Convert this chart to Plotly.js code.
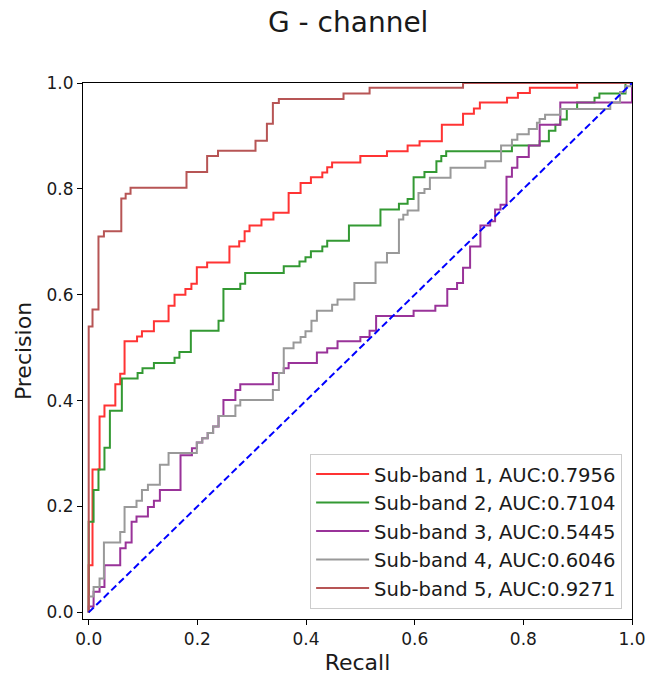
<!DOCTYPE html>
<html>
<head>
<meta charset="utf-8">
<script src="https://cdn.plot.ly/plotly-3.0.1.min.js"></script>
<style>html,body{margin:0;padding:0;background:#fff;}#chart{width:646px;height:676px;}</style>
</head>
<body>
<div id="chart"></div>
<script>
// Step-curve corner points (recall / precision levels after each step)
const band1X = [0,0,0.007,0.020,0.029,0.049,0.058,0.066,0.089,0.098,0.120,0.147,0.158,0.178,0.189,0.199,0.218,0.259,0.277,0.287,0.296,0.318,0.340,0.368,0.390,0.409,0.430,0.439,0.448,0.500,0.549,0.587,0.609,0.650,0.689,0.709,0.720,0.770,0.790,0.812,0.899,1.0];
const band1Y = [0,0.089,0.270,0.370,0.391,0.431,0.451,0.512,0.521,0.531,0.550,0.579,0.600,0.611,0.621,0.652,0.661,0.691,0.701,0.720,0.731,0.742,0.755,0.792,0.811,0.822,0.831,0.841,0.850,0.862,0.871,0.882,0.890,0.921,0.942,0.952,0.963,0.972,0.981,0.991,1.0,1.0];

const band2X = [0,0,0.009,0.018,0.029,0.039,0.061,0.090,0.099,0.120,0.158,0.167,0.188,0.239,0.248,0.279,0.288,0.359,0.388,0.399,0.409,0.430,0.439,0.479,0.537,0.571,0.587,0.598,0.618,0.640,0.649,0.658,0.779,0.830,0.847,0.859,0.868,0.880,0.899,0.931,0.940,0.988,1.0];
const band2Y = [0,0.171,0.231,0.270,0.311,0.381,0.442,0.452,0.461,0.471,0.481,0.492,0.532,0.551,0.611,0.621,0.641,0.654,0.663,0.671,0.682,0.691,0.702,0.731,0.761,0.772,0.781,0.822,0.832,0.852,0.862,0.871,0.882,0.890,0.910,0.921,0.931,0.951,0.963,0.972,0.980,1.0,1.0];

const band3X = [0,0,0.009,0.020,0.029,0.058,0.068,0.079,0.088,0.109,0.120,0.131,0.169,0.190,0.199,0.209,0.219,0.229,0.239,0.248,0.270,0.279,0.339,0.359,0.368,0.420,0.439,0.458,0.500,0.517,0.529,0.598,0.638,0.660,0.678,0.689,0.702,0.721,0.739,0.748,0.758,0.769,0.779,0.789,0.810,0.830,0.868,1.0];
const band3Y = [0,0.011,0.039,0.048,0.089,0.121,0.132,0.171,0.181,0.199,0.211,0.231,0.297,0.310,0.321,0.329,0.339,0.351,0.371,0.401,0.420,0.431,0.452,0.461,0.471,0.491,0.499,0.512,0.520,0.532,0.560,0.570,0.579,0.611,0.622,0.651,0.691,0.731,0.739,0.761,0.770,0.823,0.840,0.860,0.882,0.921,0.963,1.0];

const band4X = [0,0,0.009,0.020,0.028,0.058,0.066,0.088,0.098,0.109,0.131,0.147,0.199,0.209,0.219,0.229,0.239,0.270,0.279,0.339,0.350,0.359,0.377,0.390,0.399,0.410,0.420,0.448,0.458,0.489,0.528,0.549,0.571,0.579,0.587,0.607,0.618,0.628,0.666,0.730,0.759,0.779,0.789,0.810,0.825,0.830,0.840,0.868,0.960,0.978,0.988,1.0];
const band4Y = [0,0.030,0.048,0.064,0.132,0.152,0.199,0.211,0.231,0.241,0.279,0.301,0.321,0.329,0.339,0.351,0.371,0.391,0.401,0.420,0.452,0.499,0.510,0.520,0.531,0.551,0.570,0.581,0.591,0.622,0.661,0.679,0.742,0.751,0.759,0.792,0.800,0.821,0.840,0.852,0.882,0.893,0.903,0.913,0.925,0.932,0.940,0.951,0.963,0.983,0.994,1.0];

const band5X = [0,0,0.007,0.018,0.028,0.060,0.068,0.077,0.180,0.218,0.238,0.307,0.328,0.339,0.350,0.469,0.517,0.689,1.0];
const band5Y = [0,0.540,0.572,0.710,0.720,0.782,0.791,0.802,0.832,0.862,0.872,0.891,0.923,0.962,0.970,0.980,0.991,1.0,1.0];

const diagX = [0,1];
const diagY = [0,1];

const seriesNames = ["Sub-band 1, AUC:0.7956","Sub-band 2, AUC:0.7104","Sub-band 3, AUC:0.5445","Sub-band 4, AUC:0.6046","Sub-band 5, AUC:0.9271"];
const tickVals = [0,0.2,0.4,0.6,0.8,1.0];
const tickText = ["0.0","0.2","0.4","0.6","0.8","1.0"];

const colors = ["#ff3333","#339933","#993399","#999999","#b75555"];
const xs = [band1X,band2X,band3X,band4X,band5X];
const ys = [band1Y,band2Y,band3Y,band4Y,band5Y];

const traces = xs.map((x,i)=>({
  x:x, y:ys[i], type:'scatter', mode:'lines', name:seriesNames[i],
  line:{color:colors[i], width:2, shape:'hv'}
}));
traces.push({x:diagX, y:diagY, type:'scatter', mode:'lines', showlegend:false,
  line:{color:'#0000ff', width:2, dash:'7px,3.5px'}});

const font = "DejaVu Sans, sans-serif";
const layout = {
  width:646, height:676,
  margin:{l:83, r:14, t:83, b:57},
  paper_bgcolor:'#fff', plot_bgcolor:'#fff',
  font:{family:font, color:'#1a1a1a'},
  title:{text:'G - channel', font:{family:font, size:28, color:'#1a1a1a'},
    xref:'container', x:0.539, xanchor:'center', yref:'container', y:0.967, yanchor:'middle'},
  xaxis:{range:[-0.0105,1.0], tickvals:tickVals, ticktext:tickText, ticks:'outside', ticklen:5, tickwidth:1,
    tickcolor:'#000', showline:true, linecolor:'#000', linewidth:1, mirror:true, showgrid:false, zeroline:false,
    tickfont:{size:17, family:font, color:'#1a1a1a'},
    title:{text:'Recall', font:{size:22, family:font, color:'#1a1a1a'}, standoff:6}},
  yaxis:{range:[-0.0125,1.0], tickvals:tickVals, ticktext:tickText, ticks:'outside', ticklen:5, tickwidth:1,
    tickcolor:'#000', showline:true, linecolor:'#000', linewidth:1, mirror:true, showgrid:false, zeroline:false,
    tickfont:{size:17, family:font, color:'#1a1a1a'},
    title:{text:'Precision', font:{size:22, family:font, color:'#1a1a1a'}, standoff:8}},
  legend:{x:0.982, y:0.019, xanchor:'right', yanchor:'bottom', bgcolor:'rgba(255,255,255,0.85)',
    bordercolor:'#cccccc', borderwidth:1, font:{size:19.6, family:font, color:'#1a1a1a'},
    tracegroupgap:0, itemwidth:53},
  showlegend:true
};
Plotly.newPlot('chart', traces, layout, {staticPlot:true, displayModeBar:false});
</script>
</body>
</html>
